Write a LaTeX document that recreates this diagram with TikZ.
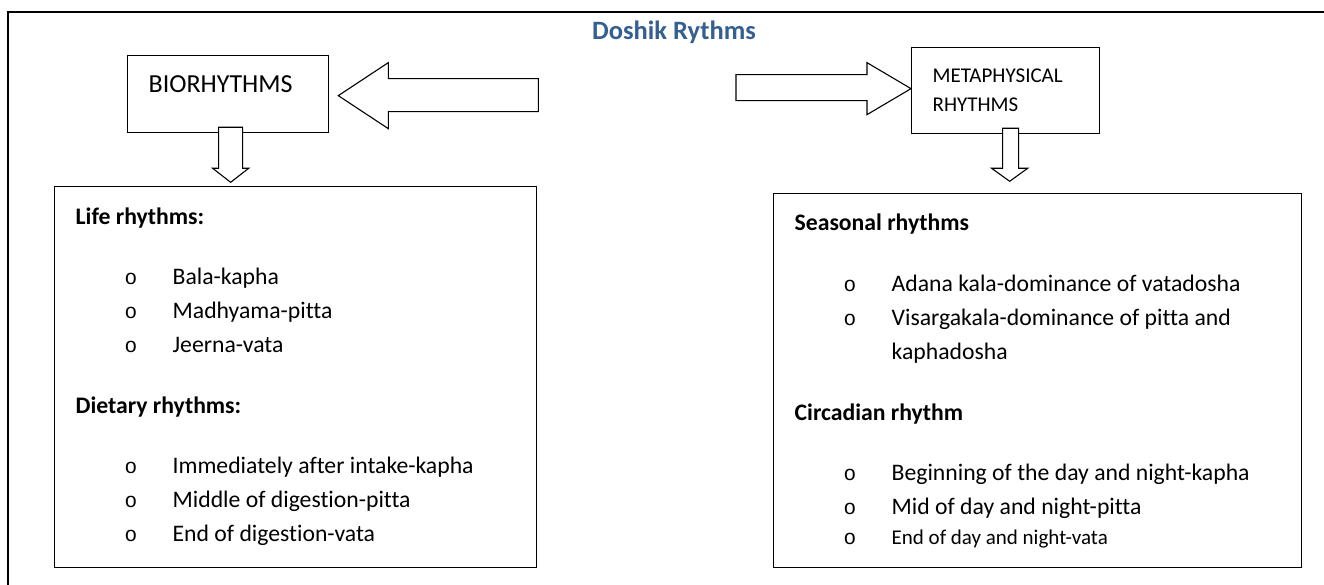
\documentclass[tikz,border=0pt]{standalone}
\usepackage{fontspec}
\setmainfont{Carlito}[Ligatures=NoCommon]
\newfontfamily\bulletfont{Liberation Mono}
\usepackage{tikz}
\definecolor{titelblau}{RGB}{54,95,145}
\newcommand{\itm}[1]{\hspace*{49pt}\makebox[48pt][l]{\bulletfont\fontsize{21}{21}\selectfont o}#1}

\begin{document}
\begin{tikzpicture}[
        x=1pt, y=-1pt,
        font=\fontsize{23.7}{34}\selectfont,
        kasten/.style={draw, line width=1.3pt, fill=white},
        inhalt/.style={kasten, inner xsep=21pt, align=flush left, anchor=north west},
        blockpfeil/.style={draw, line width=1.1pt, fill=white, line join=miter}
        ]
    \useasboundingbox (0,0) rectangle (1324,585);

    % Rahmen
    \draw[line width=2pt] (8,585) -- (8,12) -- (1324,12);

    % Titel
    \node[font=\fontsize{26.5}{30}\selectfont\bfseries, text=titelblau] (titel) at (674,32) {Doshik Rythms};

    % Kästen oben
    \node[kasten, font=\fontsize{26}{30}\selectfont, inner xsep=21pt, inner ysep=0pt,
          text width=159pt, align=flush left, text height=37pt, text depth=40pt,
          anchor=north west] (bio) at (127,55) {BIORHYTHMS};
    \node[kasten, font=\fontsize{21}{29}\selectfont, inner xsep=21pt, text width=146pt,
          align=flush left, minimum height=86pt, anchor=north west] (meta) at (911,47)
          {METAPHYSICAL\\RHYTHMS};

    % Kästen unten
    \node[inhalt, text width=440pt, minimum height=381pt] (leben) at (54,186) {
        \textbf{Life rhythms:}\\[26pt]
        \itm{Bala-kapha}\\
        \itm{Madhyama-pitta}\\
        \itm{Jeerna-vata}\\[27pt]
        \textbf{Dietary rhythms:}\\[26pt]
        \itm{Immediately after intake-kapha}\\
        \itm{Middle of digestion-pitta}\\
        \itm{End of digestion-vata}};
    \node[inhalt, text width=486pt, minimum height=374pt] (saison) at (773,193) {
        \textbf{Seasonal rhythms}\\[27pt]
        \itm{Adana kala-dominance of vatadosha}\\
        \itm{Visargakala-dominance of pitta and}\\
        \hspace*{97pt}kaphadosha\\[27pt]
        \textbf{Circadian rhythm}\\[26pt]
        \itm{Beginning of the day and night-kapha}\\
        \itm{Mid of day and night-pitta}\\[-4pt]
        {\fontsize{21}{30}\selectfont\itm{End of day and night-vata}}};

    % Pfeile
    \draw[blockpfeil] ([xshift=9pt,yshift=-1.5pt]bio.east) -- ++(50,-33) -- ++(0,16)
        -- ++(150,0) -- ++(0,33) -- ++(-150,0) -- ++(0,17) -- cycle;
    \draw[blockpfeil] ([yshift=2pt]meta.west) -- ++(-44,-26) -- ++(0,12)
        -- ++(-131,0) -- ++(0,26) -- ++(131,0) -- ++(0,14) -- cycle;
    \draw[blockpfeil] ([xshift=-9.5pt,yshift=6pt]bio.south) -- ++(0,41) -- ++(-6,0)
        -- ++(18,14) -- ++(18,-14) -- ++(-6,0) -- ++(0,-41) -- cycle;
    \draw[blockpfeil] ([xshift=-3pt,yshift=6pt]meta.south) -- ++(0,40) -- ++(-11,0)
        -- ++(18,13) -- ++(18,-13) -- ++(-9,0) -- ++(0,-40) -- cycle;

\end{tikzpicture}
\end{document}
